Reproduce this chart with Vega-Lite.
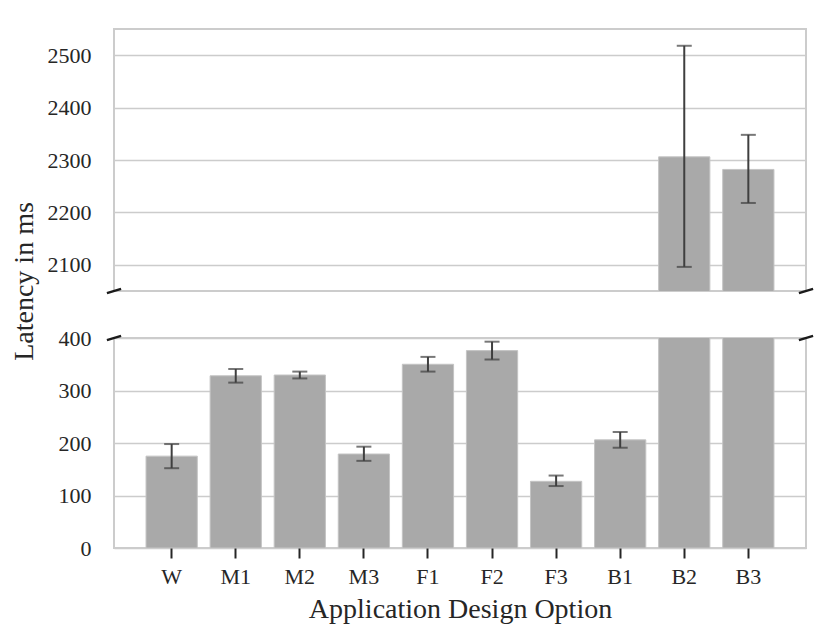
{
  "$schema": "https://vega.github.io/schema/vega-lite/v6.json",
  "padding": {"left": 9, "top": 28, "right": 5, "bottom": 5},
  "background": "white",
  "spacing": 47,
  "bounds": "flush",
  "config": {
    "view": {"stroke": "#cccccc", "strokeWidth": 2},
    "font": "Liberation Serif",
    "axis": {
      "labelFont": "Liberation Serif",
      "titleFont": "Liberation Serif",
      "labelFontSize": 22,
      "titleFontSize": 28,
      "labelColor": "#262626",
      "titleColor": "#262626",
      "titleFontWeight": "normal",
      "gridColor": "#cccccc",
      "gridWidth": 1.5,
      "domain": false
    }
  },
  "datasets": {
    "lat": [
      {"opt": "W", "mean": 175, "lo": 152, "hi": 198},
      {"opt": "M1", "mean": 328, "lo": 315, "hi": 341},
      {"opt": "M2", "mean": 329.5, "lo": 323, "hi": 336},
      {"opt": "M3", "mean": 179, "lo": 166, "hi": 193},
      {"opt": "F1", "mean": 350, "lo": 336, "hi": 364},
      {"opt": "F2", "mean": 376, "lo": 359, "hi": 393},
      {"opt": "F3", "mean": 127, "lo": 118, "hi": 138},
      {"opt": "B1", "mean": 206, "lo": 191, "hi": 221},
      {"opt": "B2", "mean": 2306, "lo": 2096, "hi": 2518},
      {"opt": "B3", "mean": 2282, "lo": 2218, "hi": 2348}
    ],
    "breaks": [{"p": 0}, {"p": 1}]
  },
  "vconcat": [
    {
      "width": 692,
      "height": 262,
      "layer": [
        {
          "data": {"name": "lat"},
          "layer": [
            {
              "mark": {"type": "bar", "color": "#a9a9a9", "stroke": "#c4c4c4", "strokeWidth": 1, "clip": true},
              "encoding": {
                "x": {"field": "opt", "type": "nominal", "sort": null, "scale": {"paddingInner": 0.2, "paddingOuter": 0.5}, "axis": null},
                "y": {"field": "mean", "type": "quantitative", "scale": {"domain": [2050, 2550], "nice": false, "zero": false},
                      "axis": {"values": [2100, 2200, 2300, 2400, 2500], "format": "d", "ticks": false, "labelPadding": 23, "title": "Latency in ms", "titleX": -82, "titleY": 252, "titleAngle": 270, "titleAlign": "center", "titleBaseline": "alphabetic"}}
              }
            },
            {
              "mark": {"type": "rule", "color": "#3f3f3f", "strokeWidth": 2, "clip": true},
              "encoding": {
                "x": {"field": "opt", "type": "nominal", "sort": null},
                "y": {"field": "lo", "type": "quantitative"},
                "y2": {"field": "hi"}
              }
            },
            {
              "mark": {"type": "tick", "color": "#3f3f3f", "thickness": 2, "size": 15, "clip": true},
              "encoding": {
                "x": {"field": "opt", "type": "nominal", "sort": null},
                "y": {"field": "lo", "type": "quantitative"}
              }
            },
            {
              "mark": {"type": "tick", "color": "#3f3f3f", "thickness": 2, "size": 15, "clip": true},
              "encoding": {
                "x": {"field": "opt", "type": "nominal", "sort": null},
                "y": {"field": "hi", "type": "quantitative"}
              }
            }
          ]
        },
        {
          "data": {"name": "breaks"},
          "mark": {"type": "point", "shape": "M-1,0.3L1,-0.3", "size": 200, "filled": false, "stroke": "#1a1a1a", "strokeWidth": 2.5, "opacity": 1},
          "encoding": {
            "x": {"field": "p", "type": "quantitative", "scale": {"domain": [0, 1], "nice": false}, "axis": null},
            "y": {"datum": 2050, "type": "quantitative"}
          }
        }
      ],
      "resolve": {"scale": {"x": "independent"}}
    },
    {
      "width": 692,
      "height": 210,
      "layer": [
        {
          "data": {"name": "lat"},
          "layer": [
            {
              "mark": {"type": "bar", "color": "#a9a9a9", "stroke": "#c4c4c4", "strokeWidth": 1, "clip": true},
              "encoding": {
                "x": {"field": "opt", "type": "nominal", "sort": null, "scale": {"paddingInner": 0.2, "paddingOuter": 0.5},
                      "axis": {"labelAngle": 0, "ticks": true, "tickSize": 10, "tickColor": "#262626", "tickWidth": 2, "labelPadding": 8, "title": "Application Design Option", "titlePadding": 8, "grid": false}},
                "y": {"field": "mean", "type": "quantitative", "scale": {"domain": [0, 400], "nice": false},
                      "axis": {"values": [0, 100, 200, 300, 400], "format": "d", "ticks": false, "labelPadding": 23, "title": null}}
              }
            },
            {
              "mark": {"type": "rule", "color": "#3f3f3f", "strokeWidth": 2, "clip": true},
              "encoding": {
                "x": {"field": "opt", "type": "nominal", "sort": null},
                "y": {"field": "lo", "type": "quantitative"},
                "y2": {"field": "hi"}
              }
            },
            {
              "mark": {"type": "tick", "color": "#3f3f3f", "thickness": 2, "size": 15, "clip": true},
              "encoding": {
                "x": {"field": "opt", "type": "nominal", "sort": null},
                "y": {"field": "lo", "type": "quantitative"}
              }
            },
            {
              "mark": {"type": "tick", "color": "#3f3f3f", "thickness": 2, "size": 15, "clip": true},
              "encoding": {
                "x": {"field": "opt", "type": "nominal", "sort": null},
                "y": {"field": "hi", "type": "quantitative"}
              }
            }
          ]
        },
        {
          "data": {"name": "breaks"},
          "mark": {"type": "point", "shape": "M-1,0.3L1,-0.3", "size": 200, "filled": false, "stroke": "#1a1a1a", "strokeWidth": 2.5, "opacity": 1},
          "encoding": {
            "x": {"field": "p", "type": "quantitative", "scale": {"domain": [0, 1], "nice": false}, "axis": null},
            "y": {"datum": 400, "type": "quantitative"}
          }
        }
      ],
      "resolve": {"scale": {"x": "independent"}}
    }
  ]
}
